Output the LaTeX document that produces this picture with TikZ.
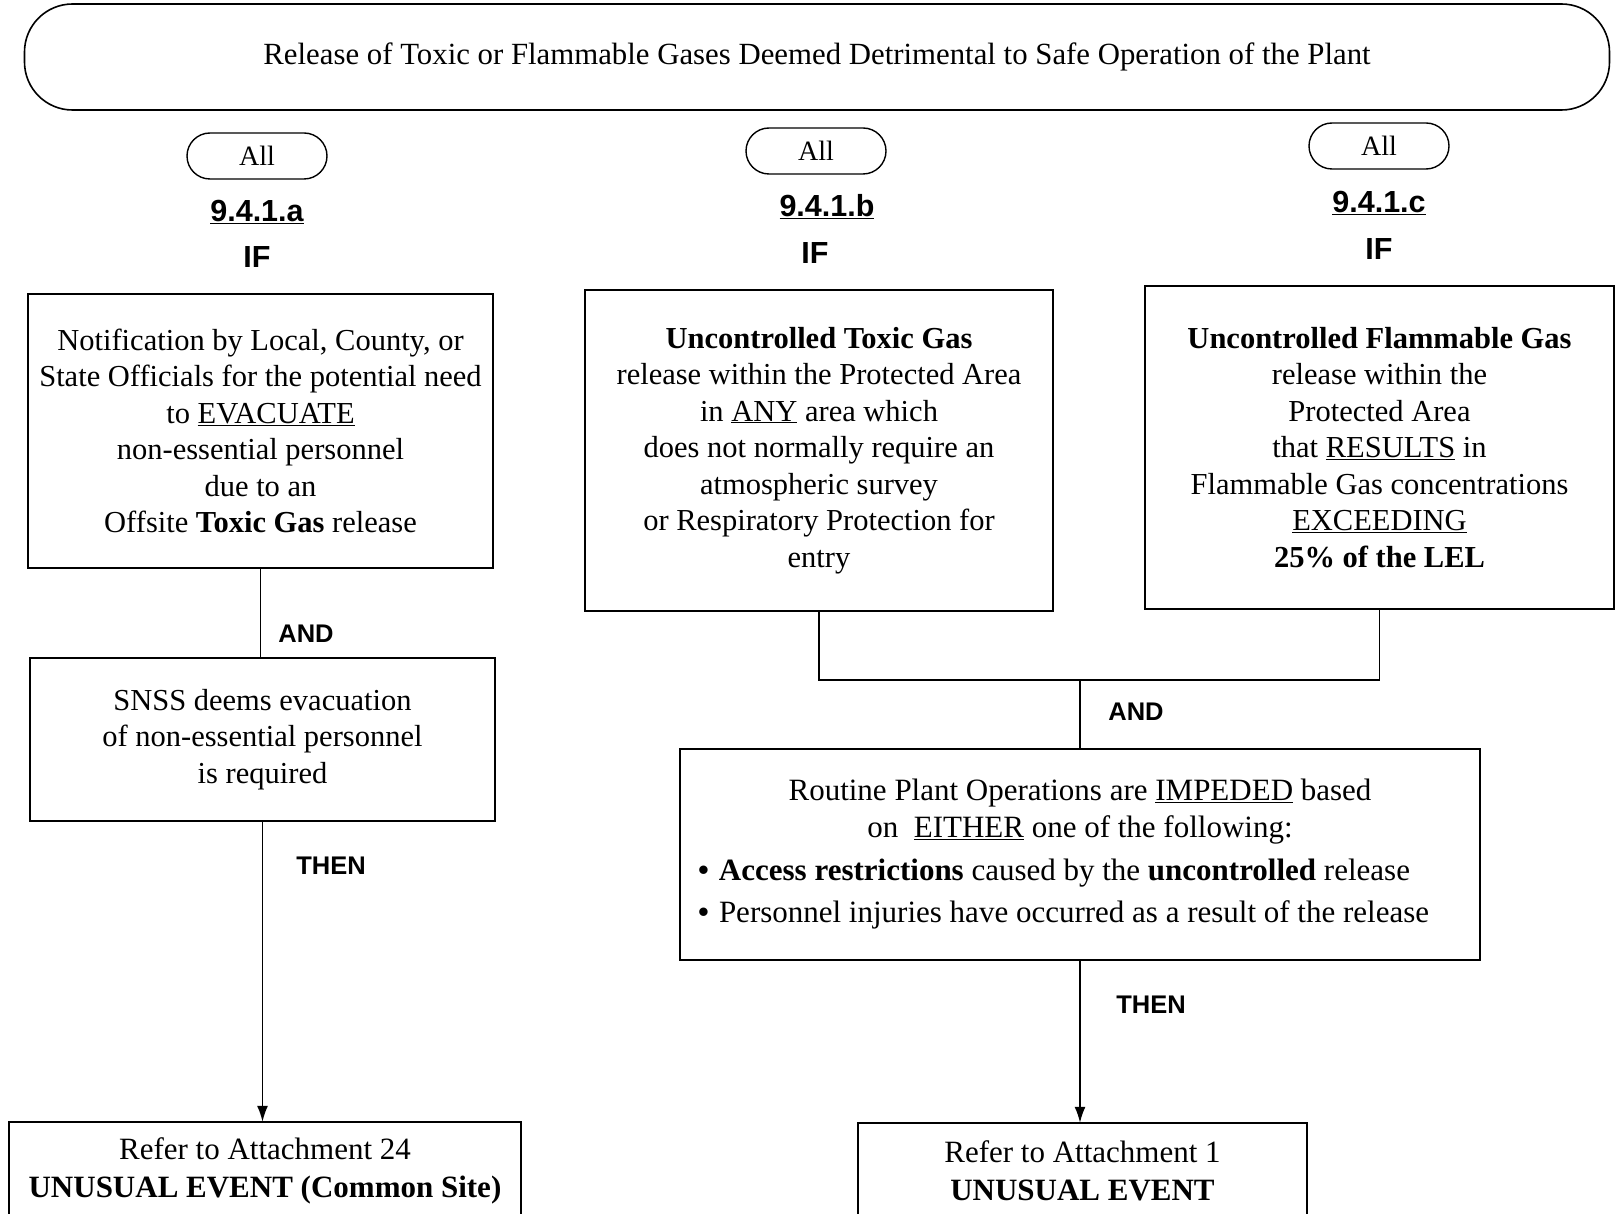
\documentclass[tikz,border=0pt]{standalone}
\usepackage{fontspec}
\setmainfont{Liberation Serif}
\newfontfamily\labfont{Liberation Sans}
\usetikzlibrary{arrows.meta}
\begin{document}
\begin{tikzpicture}[x=1pt,y=-1pt,
  box/.style={draw, line width=1.6pt, inner sep=0pt, align=center,
    font=\fontsize{30.5}{36.5}\selectfont},
  endbox/.style={inner sep=0pt, align=center, font=\fontsize{31}{37.5}\selectfont},
  pill/.style={draw, line width=1.4pt, rounded corners=23pt, minimum width=140pt,
    minimum height=46pt, inner sep=0pt, font=\fontsize{28}{30}\selectfont},
  tag/.style={inner sep=0pt, font=\labfont\bfseries\fontsize{25.5}{28}\selectfont},
  sectag/.style={inner sep=0pt, font=\labfont\bfseries\fontsize{30.5}{32}\selectfont},
  link/.style={line width=1.6pt},
  arrowlink/.style={link, -{Latex[length=16pt,width=11pt]}}
]
\useasboundingbox (0,0) rectangle (1618,1214);
\clip (0,0) rectangle (1618,1214);

% heading
\node[box, minimum width=1585pt, minimum height=106pt, rounded corners=48pt,
  font=\fontsize{30.8}{33}\selectfont] (title) at (817,57)
  {Release of Toxic or Flammable Gases Deemed Detrimental to Safe Operation of the Plant};

% mode applicability and section labels
\node[pill] (allA) at (257,156) {All};
\node[pill] (allB) at (816,151) {All};
\node[pill] (allC) at (1379,146) {All};

\node[sectag] (secA) at (257,212) {\underline{9.4.1.a}};
\node[sectag] (ifA)  at (257,257) {IF};
\node[sectag] (secB) at (827,207) {\underline{9.4.1.b}};
\node[sectag] (ifB)  at (815,253) {IF};
\node[sectag] (secC) at (1379,203) {\underline{9.4.1.c}};
\node[sectag] (ifC)  at (1379,249) {IF};

% initiating conditions
\node[box, minimum width=465pt, minimum height=274pt] (boxA) at (260.5,431)
  {Notification by Local, County, or\\
   State Officials for the potential need\\
   to \underline{EVACUATE}\\
   non-essential personnel\\
   due to an\\
   Offsite \textbf{Toxic Gas} release};

\node[box, minimum width=468pt, minimum height=321pt] (boxB) at (819,450.5)
  {\textbf{Uncontrolled Toxic Gas}\\
   release within the Protected Area\\
   in \underline{ANY} area which\\
   does not normally require an\\
   atmospheric survey\\
   or Respiratory Protection for\\
   entry};

\node[box, minimum width=469pt, minimum height=323pt] (boxC) at (1379.5,447.5)
  {\textbf{Uncontrolled Flammable Gas}\\
   release within the\\
   Protected Area\\
   that \underline{RESULTS} in\\
   Flammable Gas concentrations\\
   \underline{EXCEEDING}\\
   \textbf{25\% of the LEL}};

\node[box, minimum width=465pt, minimum height=163pt] (snss) at (262.5,739.5)
  {SNSS deems evacuation\\
   of non-essential personnel\\
   is required};

\node[box, minimum width=800pt, minimum height=211pt,
  font=\fontsize{31}{37}\selectfont] (routine) at (1080,854.5)
  {Routine Plant Operations are \underline{IMPEDED} based\\
   on \ \underline{EITHER} one of the following:\\[6pt]
   \makebox[764pt][l]{\makebox[21pt][l]{\textbf{\textbullet}}\textbf{Access restrictions} caused by the \textbf{uncontrolled} release}\\[5pt]
   \makebox[764pt][l]{\makebox[21pt][l]{\textbf{\textbullet}}Personnel injuries have occurred as a result of the release}};

% resulting classifications (boxes run off the lower edge)
\node[endbox, minimum width=512pt, minimum height=98pt] (bl) at (265,1171)
  {Refer to Attachment 24\\ \textbf{UNUSUAL EVENT (Common Site)}};
\draw[link] ([yshift=-60pt]bl.south west) -- (bl.north west) -- (bl.north east)
  -- ([yshift=-60pt]bl.south east);

\node[endbox, minimum width=449pt, minimum height=96pt] (br) at (1082.5,1171)
  {Refer to Attachment 1\\ \textbf{UNUSUAL EVENT}};
\draw[link] ([yshift=-60pt]br.south west) -- (br.north west) -- (br.north east)
  -- ([yshift=-60pt]br.south east);

% connectors
\draw[link] (boxA.south) -- (boxA.south |- snss.north);
\node[tag] (andA) at (306,634) {AND};
\draw[arrowlink] (snss.south) -- (snss.south |- bl.north);
\node[tag] (thenA) at (331,866) {THEN};

\coordinate (join) at (1077,680);
\draw[link] (boxB.south) -- (boxB.south |- join) -- (boxC.south |- join) -- (boxC.south);
\draw[link] (routine.north |- join) -- (routine.north);
\node[tag] (andB) at (1136,712) {AND};
\draw[arrowlink] (routine.south) -- (routine.south |- br.north);
\node[tag] (thenB) at (1151,1005) {THEN};
\end{tikzpicture}
\end{document}
